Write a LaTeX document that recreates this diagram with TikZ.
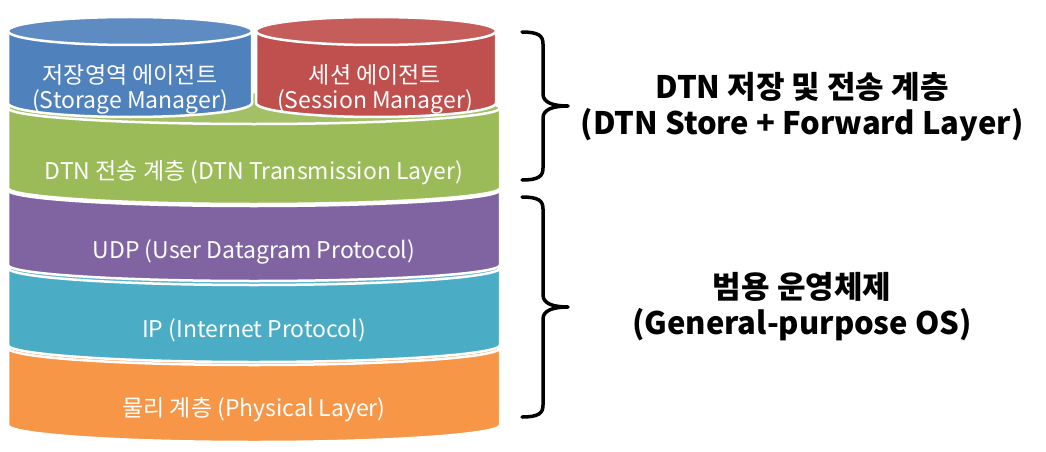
\documentclass[tikz,border=0pt]{standalone}
\usepackage{fontspec}
\setmainfont{Noto Sans CJK KR}
\definecolor{cblue}{HTML}{4F81BD}
\definecolor{cred}{HTML}{C0504D}
\definecolor{cgreen}{HTML}{9BBB59}
\definecolor{cpurple}{HTML}{8064A2}
\definecolor{cteal}{HTML}{4BACC6}
\definecolor{corange}{HTML}{F79646}
\tikzset{
  layerline/.style={draw=white, line width=2.5pt},
  laytext/.style={text=white, font=\fontsize{23}{25}\selectfont, align=center, inner sep=0pt},
  sidetext/.style={text=black, font=\bfseries\fontsize{31}{36}\selectfont, align=center, inner sep=0pt},
  bracestyle/.style={draw=black, line width=3.5pt, line cap=round, line join=round}
}
% #1 colour, #2 x-left, #3 x-right, #4 top side y, #5 bottom side y, #6 ry
\newcommand{\layershape}[6]{%
  \pgfmathsetmacro{\rxx}{(#3-#2)/2}%
  \pgfmathsetmacro{\cxx}{(#3+#2)/2}%
  \path[layerline, fill=#1] (#2,#4) -- (#2,#5) arc[start angle=180, end angle=360, x radius=\rxx, y radius=#6] -- (#3,#4) arc[start angle=0, end angle=180, x radius=\rxx, y radius=#6] -- cycle;
  \path[layerline, fill=#1!92!white] (\cxx,#4) ellipse[x radius=\rxx, y radius=#6];
}
\begin{document}
\begin{tikzpicture}[x=1pt,y=1pt]
\useasboundingbox (0,0) rectangle (1046,-452);
\fill[white] (0,0) rectangle (1046,-452);
% stacked layers, bottom first
\layershape{corange}{8}{500}{-348}{-425}{17}
\layershape{cteal}{8}{500}{-268}{-345}{17}
\layershape{cpurple}{8}{500}{-190}{-265}{16}
\layershape{cgreen}{8}{500}{-108}{-188}{16}
% top cylinders
\layershape{cblue}{8}{252}{-31}{-103}{14}
\layershape{cred}{256}{496}{-31}{-103}{14}
% texts
\node[laytext] (stor) at (130,-89) {저장영역 에이전트\\(Storage Manager)};
\node[laytext] (sess) at (375,-89) {세션 에이전트\\(Session Manager)};
\node[laytext] (dtn) at (254,-173) {DTN 전송 계층 (DTN Transmission Layer)};
\node[laytext] (udp) at (254,-252) {UDP (User Datagram Protocol)};
\node[laytext] (ip) at (254,-330) {IP (Internet Protocol)};
\node[laytext] (phy) at (254,-410) {물리 계층 (Physical Layer)};
% braces
\coordinate (b1t) at (522,-32);
\coordinate (b1m) at (568,-106);
\coordinate (b1b) at (522,-180);
\coordinate (b2t) at (522,-197);
\coordinate (b2m) at (568,-307);
\coordinate (b2b) at (522,-417);
\draw[bracestyle] (b1t) .. controls ++(17,0) and ++(0,8) .. ([xshift=21pt,yshift=-12pt]b1t)
  -- ([xshift=-25pt,yshift=12pt]b1m) .. controls ++(0,-9) and ++(-14,0) .. (b1m)
  .. controls ++(-14,0) and ++(0,9) .. ([xshift=-25pt,yshift=-12pt]b1m)
  -- ([xshift=21pt,yshift=12pt]b1b) .. controls ++(0,-8) and ++(17,0) .. (b1b);
\draw[bracestyle] (b2t) .. controls ++(17,0) and ++(0,8) .. ([xshift=21pt,yshift=-12pt]b2t)
  -- ([xshift=-25pt,yshift=12pt]b2m) .. controls ++(0,-9) and ++(-14,0) .. (b2m)
  .. controls ++(-14,0) and ++(0,9) .. ([xshift=-25pt,yshift=-12pt]b2m)
  -- ([xshift=21pt,yshift=12pt]b2b) .. controls ++(0,-8) and ++(17,0) .. (b2b);
\node[sidetext] (top) at (802,-107) {DTN 저장 및 전송 계층\\(DTN Store + Forward Layer)};
\node[sidetext] (bot) at (802,-307) {범용 운영체제\\(General-purpose OS)};
\end{tikzpicture}
\end{document}
